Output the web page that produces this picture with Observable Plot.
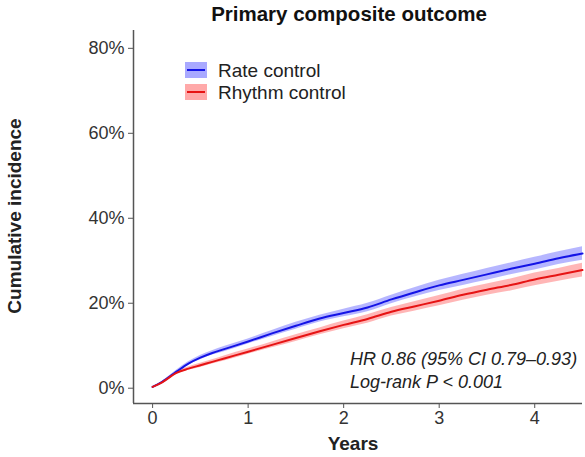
<!DOCTYPE html>
<html><head><meta charset="utf-8">
<script src="https://cdn.jsdelivr.net/npm/d3@7"></script>
<script src="https://cdn.jsdelivr.net/npm/@observablehq/plot@0.6"></script>
<style>
html,body{margin:0;padding:0;background:#fff;}
#chart{width:585px;height:457px;}
svg text{font-family:"Liberation Sans",Arial,sans-serif;}
</style></head>
<body><div id="chart"></div>
<script>
const years = [0, 0.1, 0.25, 0.375, 0.5, 0.625, 0.75, 1.0, 1.25, 1.5, 1.75, 2.0, 2.25, 2.5, 2.75, 3.0, 3.25, 3.5, 3.75, 4.0, 4.25, 4.5];
const rateEst  = [0.3, 1.5, 3.9, 5.8, 7.2, 8.3, 9.2, 11.0, 12.9, 14.7, 16.4, 17.7, 19.0, 20.9, 22.6, 24.2, 25.5, 26.8, 28.1, 29.3, 30.6, 31.7];
const rateLo   = [0.3, 1.4, 3.6, 5.4, 6.7, 7.8, 8.6, 10.4, 12.2, 13.9, 15.6, 16.8, 18.0, 19.9, 21.5, 23.0, 24.2, 25.4, 26.7, 27.8, 29.1, 30.1];
const rateHi   = [0.3, 1.6, 4.2, 6.2, 7.7, 8.8, 9.8, 11.6, 13.6, 15.5, 17.2, 18.6, 20.0, 21.9, 23.7, 25.4, 26.8, 28.2, 29.5, 30.8, 32.1, 33.3];
const rhythmEst = [0.3, 1.4, 3.6, 4.6, 5.4, 6.2, 7.0, 8.6, 10.2, 11.8, 13.4, 14.9, 16.3, 18.0, 19.3, 20.6, 22.0, 23.2, 24.3, 25.6, 26.7, 27.8];
const rhythmLo  = [0.3, 1.3, 3.3, 4.2, 4.9, 5.7, 6.4, 8.0, 9.5, 11.0, 12.6, 14.0, 15.3, 17.0, 18.2, 19.4, 20.7, 21.9, 22.9, 24.1, 25.2, 26.2];
const rhythmHi  = [0.3, 1.5, 3.9, 5.0, 5.9, 6.7, 7.6, 9.2, 10.9, 12.6, 14.2, 15.8, 17.3, 19.0, 20.4, 21.8, 23.3, 24.5, 25.7, 27.1, 28.2, 29.4];
const groups = ["Rate control", "Rhythm control"];
const lineColors = ["#1414e6", "#e61414"];
const bandColors = ["#a9a9ff", "#ffa9a9"];
const yTicks = [0, 20, 40, 60, 80];
const xTicks = [0, 1, 2, 3, 4];
const titleText = "Primary composite outcome";
const xLabel = "Years";
const yLabel = "Cumulative incidence";
const annot = ["HR 0.86 (95% CI 0.79\u20130.93)", "Log-rank P < 0.001"];

const rows = [];
years.forEach((t, i) => {
  rows.push({t, g: groups[0], est: rateEst[i], lo: rateLo[i], hi: rateHi[i]});
  rows.push({t, g: groups[1], est: rhythmEst[i], lo: rhythmLo[i], hi: rhythmHi[i]});
});

const xDom = [-0.2, 4.5];
const yDom = [-3.6, 84.2];
const W = 585, H = 457;
const mL = 133, mR = 3, mT = 30, mB = 54;

const plot = Plot.plot({
  width: W, height: H,
  marginLeft: mL, marginRight: mR, marginTop: mT, marginBottom: mB,
  style: {fontFamily: '"Liberation Sans", Arial, sans-serif', background: "#fff"},
  x: {domain: xDom},
  y: {domain: yDom},
  color: {domain: groups, range: lineColors},
  marks: [
    Plot.areaY(rows, {x: "t", y1: "lo", y2: "hi", z: "g", fill: d => d.g === groups[0] ? bandColors[0] : bandColors[1], fillOpacity: 0.85, curve: "monotone-x"}),
    Plot.line(rows, {x: "t", y: "est", z: "g", stroke: "g", strokeWidth: 2, curve: "monotone-x"}),
    Plot.ruleX([xDom[0]], {stroke: "#555", strokeWidth: 1.5}),
    Plot.ruleY([yDom[0]], {stroke: "#555", strokeWidth: 1.5}),
    Plot.axisY({ticks: yTicks, tickFormat: d => d + "%", tickSize: 5, tickPadding: 4, fontSize: 18, color: "#333", stroke: "#555", label: null}),
    Plot.axisX({ticks: xTicks, tickFormat: d => String(d), tickSize: 5, tickPadding: 3, fontSize: 18, color: "#333", stroke: "#555", label: null})
  ]
});
document.getElementById("chart").appendChild(plot);

const svg = d3.select(plot);
svg.append("text").attr("x", 349).attr("y", 21).attr("text-anchor", "middle")
  .attr("font-size", 20.5).attr("font-weight", "bold").attr("fill", "#111").text(titleText);
svg.append("text").attr("x", 353).attr("y", 450).attr("text-anchor", "middle")
  .attr("font-size", 19).attr("font-weight", "bold").attr("fill", "#222").text(xLabel);
svg.append("text").attr("transform", "translate(21,216) rotate(-90)").attr("text-anchor", "middle")
  .attr("font-size", 19).attr("font-weight", "bold").attr("fill", "#222").text(yLabel);

// legend
const lg = svg.append("g");
groups.forEach((g, i) => {
  const y0 = 62 + i * 22;
  lg.append("rect").attr("x", 185).attr("y", y0).attr("width", 22).attr("height", 16).attr("fill", bandColors[i]);
  lg.append("line").attr("x1", 187).attr("x2", 205).attr("y1", y0 + 8).attr("y2", y0 + 8).attr("stroke", lineColors[i]).attr("stroke-width", 2);
  lg.append("text").attr("x", 218).attr("y", y0 + 15).attr("text-anchor", "start").attr("font-size", 19).attr("fill", "#222").text(g);
});
annot.forEach((s, i) => {
  svg.append("text").attr("x", 350).attr("y", 365 + i * 23).attr("text-anchor", "start").attr("font-size", 18).attr("font-style", "italic").attr("fill", "#222").text(s);
});
</script></body></html>
